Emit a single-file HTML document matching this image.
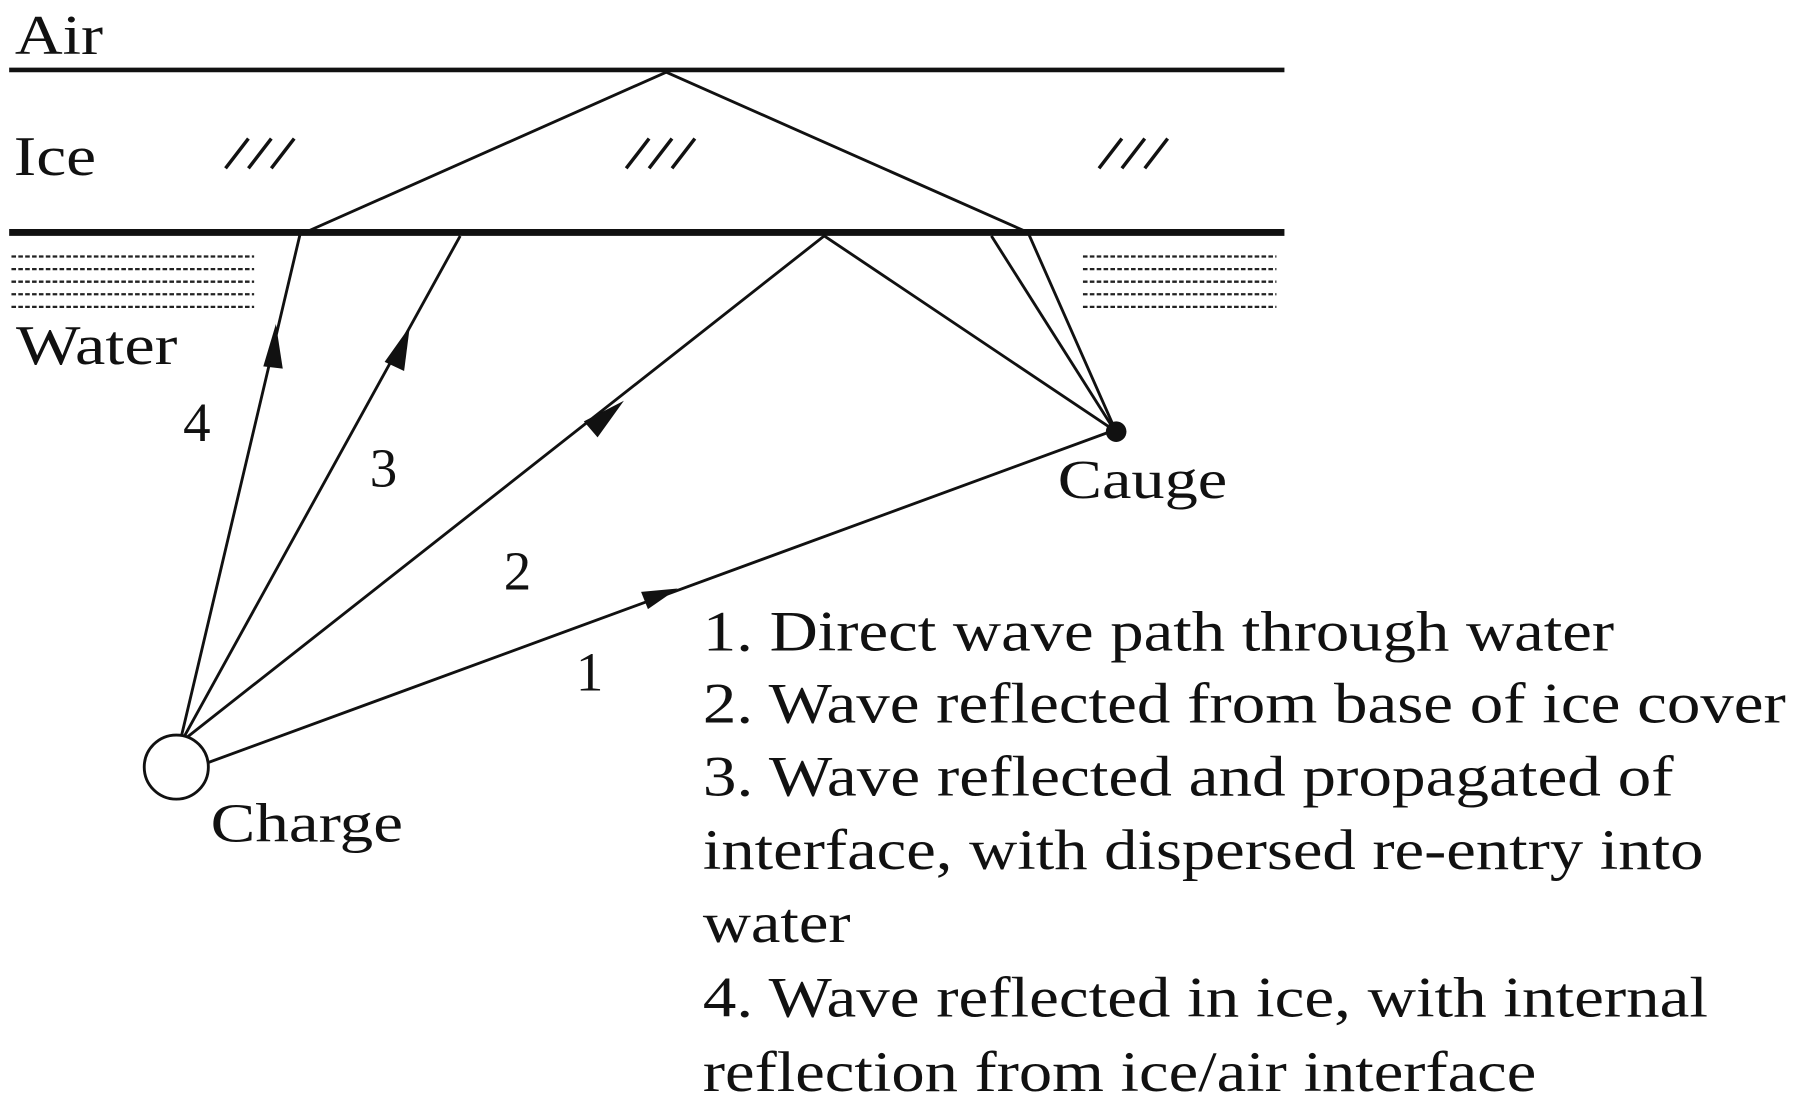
<!DOCTYPE html>
<html><head><meta charset="utf-8"><style>
html,body{margin:0;padding:0;background:#fff;}
svg{display:block;}
text{font-family:"Liberation Serif",serif;fill:#111;}
</style></head><body>
<svg width="1795" height="1114" viewBox="0 0 1568 973" xmlns="http://www.w3.org/2000/svg">
<rect width="1568" height="973" fill="#fff"/>
<g font-size="49" lengthAdjust="spacingAndGlyphs">
<text x="13" y="47" textLength="77" lengthAdjust="spacingAndGlyphs">Air</text>
<text x="12" y="153" textLength="72" lengthAdjust="spacingAndGlyphs">Ice</text>
<text x="14" y="318" textLength="141" lengthAdjust="spacingAndGlyphs">Water</text>
</g>
<line x1="8" y1="61" x2="1122" y2="61" stroke="#111" stroke-width="4"/>
<line x1="8" y1="203" x2="1122" y2="203" stroke="#111" stroke-width="6"/>
<g stroke="#111" stroke-width="3">
<line x1="197" y1="147" x2="217" y2="121"/><line x1="217" y1="147" x2="237" y2="121"/><line x1="237" y1="147" x2="257" y2="121"/>
<line x1="547" y1="147" x2="567" y2="121"/><line x1="567" y1="147" x2="587" y2="121"/><line x1="587" y1="147" x2="607" y2="121"/>
<line x1="960" y1="147" x2="980" y2="121"/><line x1="980" y1="147" x2="1000" y2="121"/><line x1="1000" y1="147" x2="1020" y2="121"/>
</g>
<g stroke="#222" stroke-width="2" stroke-dasharray="4,2">
<line x1="10" y1="224" x2="222" y2="224"/><line x1="10" y1="235" x2="222" y2="235"/><line x1="10" y1="246" x2="222" y2="246"/><line x1="10" y1="257" x2="222" y2="257"/><line x1="10" y1="268" x2="222" y2="268"/>
<line x1="946" y1="224" x2="1115" y2="224"/><line x1="946" y1="235" x2="1115" y2="235"/><line x1="946" y1="246" x2="1115" y2="246"/><line x1="946" y1="257" x2="1115" y2="257"/><line x1="946" y1="268" x2="1115" y2="268"/>
</g>
<g stroke="#111" stroke-width="2.5" fill="none">
<line x1="182" y1="666" x2="970" y2="377"/>
<polyline points="162,645 720,206 972,375"/>
<line x1="160" y1="645" x2="402" y2="206"/>
<line x1="866" y1="206" x2="973" y2="375"/>
<polyline points="158,645 262,205 582,63 898,203 974,375"/>
</g>
<g fill="#111">
<polygon points="592,514 566,532 560,517"/>
<polygon points="545,350 522,382 510,368"/>
<polygon points="358,285 353,324 336,316"/>
<polygon points="241,283 247,322 230,320"/>
</g>
<circle cx="154" cy="670" r="28" fill="#fff" stroke="#111" stroke-width="2.5"/>
<circle cx="975" cy="377" r="9" fill="#111"/>
<g font-size="48">
<text x="160" y="385">4</text>
<text x="323" y="425">3</text>
<text x="440" y="515">2</text>
<text x="503" y="603">1</text>
<text x="924" y="435" textLength="148" lengthAdjust="spacingAndGlyphs">Cauge</text>
<text x="184" y="735" textLength="168" lengthAdjust="spacingAndGlyphs">Charge</text>
</g>
<g font-size="50">
<text x="614" y="568" textLength="796" lengthAdjust="spacingAndGlyphs">1. Direct wave path through water</text>
<text x="614" y="631" textLength="946" lengthAdjust="spacingAndGlyphs">2. Wave reflected from base of ice cover</text>
<text x="614" y="695" textLength="848" lengthAdjust="spacingAndGlyphs">3. Wave reflected and propagated of</text>
<text x="614" y="759" textLength="874" lengthAdjust="spacingAndGlyphs">interface, with dispersed re-entry into</text>
<text x="614" y="823" textLength="129" lengthAdjust="spacingAndGlyphs">water</text>
<text x="614" y="888" textLength="878" lengthAdjust="spacingAndGlyphs">4. Wave reflected in ice, with internal</text>
<text x="614" y="953" textLength="728" lengthAdjust="spacingAndGlyphs">reflection from ice/air interface</text>
</g>
</svg>
</body></html>
